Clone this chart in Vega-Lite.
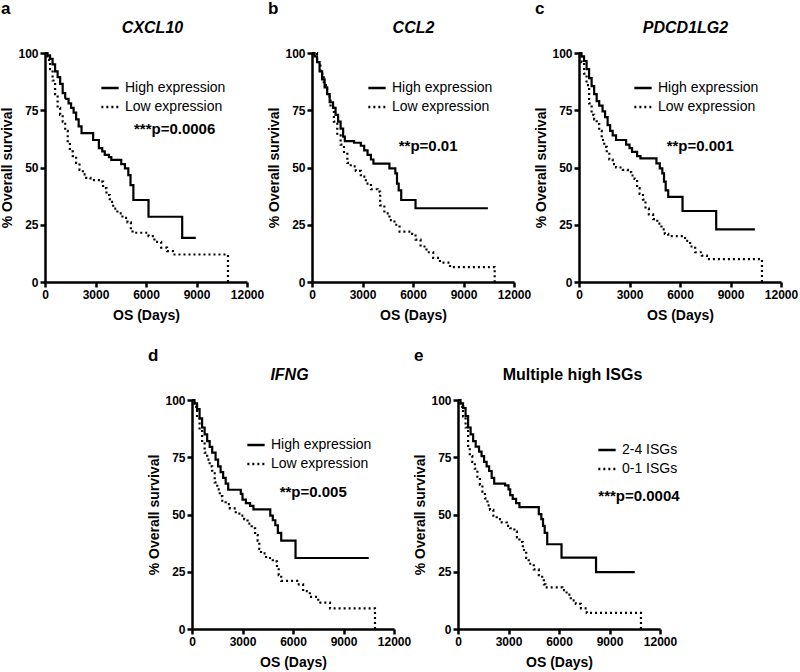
{
  "$schema": "https://vega.github.io/schema/vega-lite/v6.json",
  "padding": {"left": 0, "top": 0, "right": 5, "bottom": 5},
  "datasets": {
    "km": [
      {"panel":"a","group":"High expression","day":0,"survival":100},
      {"panel":"a","group":"High expression","day":150,"survival":99},
      {"panel":"a","group":"High expression","day":300,"survival":97.5},
      {"panel":"a","group":"High expression","day":450,"survival":95},
      {"panel":"a","group":"High expression","day":600,"survival":92},
      {"panel":"a","group":"High expression","day":750,"survival":89.5},
      {"panel":"a","group":"High expression","day":900,"survival":86.5},
      {"panel":"a","group":"High expression","day":1050,"survival":82.5},
      {"panel":"a","group":"High expression","day":1200,"survival":80},
      {"panel":"a","group":"High expression","day":1400,"survival":78},
      {"panel":"a","group":"High expression","day":1550,"survival":76},
      {"panel":"a","group":"High expression","day":1700,"survival":74},
      {"panel":"a","group":"High expression","day":1850,"survival":71},
      {"panel":"a","group":"High expression","day":2000,"survival":68},
      {"panel":"a","group":"High expression","day":2170,"survival":65},
      {"panel":"a","group":"High expression","day":2860,"survival":62},
      {"panel":"a","group":"High expression","day":3200,"survival":58.5},
      {"panel":"a","group":"High expression","day":3400,"survival":57},
      {"panel":"a","group":"High expression","day":3550,"survival":55.5},
      {"panel":"a","group":"High expression","day":3800,"survival":54.5},
      {"panel":"a","group":"High expression","day":3940,"survival":53.3},
      {"panel":"a","group":"High expression","day":4530,"survival":51.5},
      {"panel":"a","group":"High expression","day":4750,"survival":49.6},
      {"panel":"a","group":"High expression","day":4950,"survival":46.7},
      {"panel":"a","group":"High expression","day":5080,"survival":42.3},
      {"panel":"a","group":"High expression","day":5250,"survival":35.8},
      {"panel":"a","group":"High expression","day":6150,"survival":28.5},
      {"panel":"a","group":"High expression","day":8150,"survival":19.3},
      {"panel":"a","group":"High expression","day":8960,"survival":19.3},
      {"panel":"a","group":"Low expression","day":0,"survival":100},
      {"panel":"a","group":"Low expression","day":150,"survival":97},
      {"panel":"a","group":"Low expression","day":300,"survival":93},
      {"panel":"a","group":"Low expression","day":450,"survival":88},
      {"panel":"a","group":"Low expression","day":600,"survival":82},
      {"panel":"a","group":"Low expression","day":750,"survival":76},
      {"panel":"a","group":"Low expression","day":900,"survival":73},
      {"panel":"a","group":"Low expression","day":1050,"survival":70},
      {"panel":"a","group":"Low expression","day":1200,"survival":66},
      {"panel":"a","group":"Low expression","day":1350,"survival":61},
      {"panel":"a","group":"Low expression","day":1480,"survival":57},
      {"panel":"a","group":"Low expression","day":1650,"survival":55},
      {"panel":"a","group":"Low expression","day":1850,"survival":52},
      {"panel":"a","group":"Low expression","day":2050,"survival":49},
      {"panel":"a","group":"Low expression","day":2250,"survival":47},
      {"panel":"a","group":"Low expression","day":2450,"survival":45.5},
      {"panel":"a","group":"Low expression","day":2700,"survival":44.5},
      {"panel":"a","group":"Low expression","day":3300,"survival":43.8},
      {"panel":"a","group":"Low expression","day":3450,"survival":41},
      {"panel":"a","group":"Low expression","day":3650,"survival":38},
      {"panel":"a","group":"Low expression","day":3850,"survival":35},
      {"panel":"a","group":"Low expression","day":4050,"survival":32},
      {"panel":"a","group":"Low expression","day":4300,"survival":30},
      {"panel":"a","group":"Low expression","day":4600,"survival":28},
      {"panel":"a","group":"Low expression","day":4900,"survival":26},
      {"panel":"a","group":"Low expression","day":5100,"survival":23},
      {"panel":"a","group":"Low expression","day":5200,"survival":21.5},
      {"panel":"a","group":"Low expression","day":6150,"survival":20},
      {"panel":"a","group":"Low expression","day":6500,"survival":17.5},
      {"panel":"a","group":"Low expression","day":6900,"survival":15},
      {"panel":"a","group":"Low expression","day":7250,"survival":13.5},
      {"panel":"a","group":"Low expression","day":7600,"survival":12},
      {"panel":"a","group":"Low expression","day":10870,"survival":0},
      {"panel":"b","group":"High expression","day":0,"survival":100},
      {"panel":"b","group":"High expression","day":150,"survival":98.5},
      {"panel":"b","group":"High expression","day":300,"survival":96},
      {"panel":"b","group":"High expression","day":450,"survival":92},
      {"panel":"b","group":"High expression","day":600,"survival":88.5},
      {"panel":"b","group":"High expression","day":750,"survival":85},
      {"panel":"b","group":"High expression","day":900,"survival":82},
      {"panel":"b","group":"High expression","day":1050,"survival":78.5},
      {"panel":"b","group":"High expression","day":1250,"survival":76},
      {"panel":"b","group":"High expression","day":1400,"survival":73},
      {"panel":"b","group":"High expression","day":1550,"survival":70},
      {"panel":"b","group":"High expression","day":1700,"survival":67},
      {"panel":"b","group":"High expression","day":1850,"survival":63.5},
      {"panel":"b","group":"High expression","day":1950,"survival":61.5},
      {"panel":"b","group":"High expression","day":2500,"survival":60.8},
      {"panel":"b","group":"High expression","day":2900,"survival":59.5},
      {"panel":"b","group":"High expression","day":3100,"survival":57.5},
      {"panel":"b","group":"High expression","day":3300,"survival":55.5},
      {"panel":"b","group":"High expression","day":3500,"survival":53.5},
      {"panel":"b","group":"High expression","day":3650,"survival":51.7},
      {"panel":"b","group":"High expression","day":4450,"survival":51.7},
      {"panel":"b","group":"High expression","day":4600,"survival":49.6},
      {"panel":"b","group":"High expression","day":4950,"survival":47.4},
      {"panel":"b","group":"High expression","day":5050,"survival":43},
      {"panel":"b","group":"High expression","day":5150,"survival":40},
      {"panel":"b","group":"High expression","day":5300,"survival":35.8},
      {"panel":"b","group":"High expression","day":6150,"survival":32.2},
      {"panel":"b","group":"High expression","day":10450,"survival":32.2},
      {"panel":"b","group":"Low expression","day":0,"survival":100},
      {"panel":"b","group":"Low expression","day":300,"survival":96},
      {"panel":"b","group":"Low expression","day":500,"survival":91},
      {"panel":"b","group":"Low expression","day":700,"survival":86},
      {"panel":"b","group":"Low expression","day":900,"survival":81},
      {"panel":"b","group":"Low expression","day":1100,"survival":76},
      {"panel":"b","group":"Low expression","day":1300,"survival":70},
      {"panel":"b","group":"Low expression","day":1500,"survival":64},
      {"panel":"b","group":"Low expression","day":1700,"survival":60},
      {"panel":"b","group":"Low expression","day":1900,"survival":56},
      {"panel":"b","group":"Low expression","day":2100,"survival":52},
      {"panel":"b","group":"Low expression","day":2300,"survival":50.5},
      {"panel":"b","group":"Low expression","day":2600,"survival":48.5},
      {"panel":"b","group":"Low expression","day":2900,"survival":46},
      {"panel":"b","group":"Low expression","day":3200,"survival":43},
      {"panel":"b","group":"Low expression","day":3500,"survival":40.5},
      {"panel":"b","group":"Low expression","day":3900,"survival":39.5},
      {"panel":"b","group":"Low expression","day":4050,"survival":33.5},
      {"panel":"b","group":"Low expression","day":4300,"survival":30},
      {"panel":"b","group":"Low expression","day":4600,"survival":27},
      {"panel":"b","group":"Low expression","day":4900,"survival":25},
      {"panel":"b","group":"Low expression","day":5200,"survival":22},
      {"panel":"b","group":"Low expression","day":5950,"survival":21},
      {"panel":"b","group":"Low expression","day":6150,"survival":18.5},
      {"panel":"b","group":"Low expression","day":6450,"survival":15.5},
      {"panel":"b","group":"Low expression","day":6800,"survival":13},
      {"panel":"b","group":"Low expression","day":7200,"survival":10.5},
      {"panel":"b","group":"Low expression","day":7600,"survival":8.5},
      {"panel":"b","group":"Low expression","day":8200,"survival":6.5},
      {"panel":"b","group":"Low expression","day":10850,"survival":0},
      {"panel":"c","group":"High expression","day":0,"survival":100},
      {"panel":"c","group":"High expression","day":150,"survival":98.5},
      {"panel":"c","group":"High expression","day":300,"survival":96.5},
      {"panel":"c","group":"High expression","day":450,"survival":93},
      {"panel":"c","group":"High expression","day":600,"survival":89},
      {"panel":"c","group":"High expression","day":750,"survival":85.5},
      {"panel":"c","group":"High expression","day":900,"survival":82},
      {"panel":"c","group":"High expression","day":1050,"survival":79},
      {"panel":"c","group":"High expression","day":1200,"survival":77},
      {"panel":"c","group":"High expression","day":1400,"survival":74.5},
      {"panel":"c","group":"High expression","day":1550,"survival":72},
      {"panel":"c","group":"High expression","day":1700,"survival":68.5},
      {"panel":"c","group":"High expression","day":1850,"survival":66},
      {"panel":"c","group":"High expression","day":2000,"survival":64},
      {"panel":"c","group":"High expression","day":2200,"survival":62},
      {"panel":"c","group":"High expression","day":2800,"survival":60},
      {"panel":"c","group":"High expression","day":3000,"survival":58.5},
      {"panel":"c","group":"High expression","day":3150,"survival":56.8},
      {"panel":"c","group":"High expression","day":3450,"survival":55},
      {"panel":"c","group":"High expression","day":3650,"survival":54},
      {"panel":"c","group":"High expression","day":4500,"survival":54},
      {"panel":"c","group":"High expression","day":4600,"survival":51.8},
      {"panel":"c","group":"High expression","day":4800,"survival":49.6},
      {"panel":"c","group":"High expression","day":4950,"survival":47.4},
      {"panel":"c","group":"High expression","day":5050,"survival":43.8},
      {"panel":"c","group":"High expression","day":5150,"survival":40},
      {"panel":"c","group":"High expression","day":5300,"survival":37.2},
      {"panel":"c","group":"High expression","day":6150,"survival":31},
      {"panel":"c","group":"High expression","day":8150,"survival":23},
      {"panel":"c","group":"High expression","day":10450,"survival":23},
      {"panel":"c","group":"Low expression","day":0,"survival":100},
      {"panel":"c","group":"Low expression","day":150,"survival":96},
      {"panel":"c","group":"Low expression","day":300,"survival":91},
      {"panel":"c","group":"Low expression","day":450,"survival":86},
      {"panel":"c","group":"Low expression","day":600,"survival":78},
      {"panel":"c","group":"Low expression","day":750,"survival":73},
      {"panel":"c","group":"Low expression","day":900,"survival":71},
      {"panel":"c","group":"Low expression","day":1050,"survival":69},
      {"panel":"c","group":"Low expression","day":1200,"survival":66},
      {"panel":"c","group":"Low expression","day":1350,"survival":62},
      {"panel":"c","group":"Low expression","day":1500,"survival":59},
      {"panel":"c","group":"Low expression","day":1650,"survival":56},
      {"panel":"c","group":"Low expression","day":1800,"survival":53.5},
      {"panel":"c","group":"Low expression","day":2000,"survival":51.5},
      {"panel":"c","group":"Low expression","day":2200,"survival":50},
      {"panel":"c","group":"Low expression","day":2600,"survival":49},
      {"panel":"c","group":"Low expression","day":2900,"survival":48},
      {"panel":"c","group":"Low expression","day":3100,"survival":46.5},
      {"panel":"c","group":"Low expression","day":3300,"survival":45},
      {"panel":"c","group":"Low expression","day":3450,"survival":41},
      {"panel":"c","group":"Low expression","day":3600,"survival":38.5},
      {"panel":"c","group":"Low expression","day":3800,"survival":36},
      {"panel":"c","group":"Low expression","day":3950,"survival":32},
      {"panel":"c","group":"Low expression","day":4150,"survival":29.5},
      {"panel":"c","group":"Low expression","day":4400,"survival":27.5},
      {"panel":"c","group":"Low expression","day":4650,"survival":25.5},
      {"panel":"c","group":"Low expression","day":4900,"survival":23},
      {"panel":"c","group":"Low expression","day":5100,"survival":21},
      {"panel":"c","group":"Low expression","day":5300,"survival":20},
      {"panel":"c","group":"Low expression","day":6300,"survival":18},
      {"panel":"c","group":"Low expression","day":6600,"survival":15.5},
      {"panel":"c","group":"Low expression","day":6900,"survival":13},
      {"panel":"c","group":"Low expression","day":7300,"survival":11.5},
      {"panel":"c","group":"Low expression","day":7600,"survival":10},
      {"panel":"c","group":"Low expression","day":10870,"survival":0},
      {"panel":"d","group":"High expression","day":0,"survival":100},
      {"panel":"d","group":"High expression","day":150,"survival":98.5},
      {"panel":"d","group":"High expression","day":300,"survival":96},
      {"panel":"d","group":"High expression","day":450,"survival":92},
      {"panel":"d","group":"High expression","day":600,"survival":88},
      {"panel":"d","group":"High expression","day":750,"survival":85},
      {"panel":"d","group":"High expression","day":900,"survival":82},
      {"panel":"d","group":"High expression","day":1050,"survival":79.5},
      {"panel":"d","group":"High expression","day":1200,"survival":77},
      {"panel":"d","group":"High expression","day":1400,"survival":74},
      {"panel":"d","group":"High expression","day":1550,"survival":71},
      {"panel":"d","group":"High expression","day":1700,"survival":68.5},
      {"panel":"d","group":"High expression","day":1850,"survival":66},
      {"panel":"d","group":"High expression","day":2000,"survival":63.5},
      {"panel":"d","group":"High expression","day":2150,"survival":60.8},
      {"panel":"d","group":"High expression","day":2900,"survival":59},
      {"panel":"d","group":"High expression","day":3000,"survival":56.5},
      {"panel":"d","group":"High expression","day":3200,"survival":55},
      {"panel":"d","group":"High expression","day":3450,"survival":53.8},
      {"panel":"d","group":"High expression","day":3650,"survival":52.2},
      {"panel":"d","group":"High expression","day":4500,"survival":52.2},
      {"panel":"d","group":"High expression","day":4650,"survival":49.5},
      {"panel":"d","group":"High expression","day":4800,"survival":47.5},
      {"panel":"d","group":"High expression","day":4950,"survival":45.3},
      {"panel":"d","group":"High expression","day":5100,"survival":42},
      {"panel":"d","group":"High expression","day":5300,"survival":38.6},
      {"panel":"d","group":"High expression","day":6150,"survival":31},
      {"panel":"d","group":"High expression","day":10500,"survival":31},
      {"panel":"d","group":"Low expression","day":0,"survival":100},
      {"panel":"d","group":"Low expression","day":150,"survival":97},
      {"panel":"d","group":"Low expression","day":300,"survival":92.5},
      {"panel":"d","group":"Low expression","day":450,"survival":87},
      {"panel":"d","group":"Low expression","day":600,"survival":81},
      {"panel":"d","group":"Low expression","day":750,"survival":77},
      {"panel":"d","group":"Low expression","day":900,"survival":74},
      {"panel":"d","group":"Low expression","day":1050,"survival":71},
      {"panel":"d","group":"Low expression","day":1200,"survival":68},
      {"panel":"d","group":"Low expression","day":1350,"survival":64},
      {"panel":"d","group":"Low expression","day":1500,"survival":61},
      {"panel":"d","group":"Low expression","day":1650,"survival":58},
      {"panel":"d","group":"Low expression","day":1800,"survival":56},
      {"panel":"d","group":"Low expression","day":2000,"survival":54.5},
      {"panel":"d","group":"Low expression","day":2250,"survival":52.7},
      {"panel":"d","group":"Low expression","day":2600,"survival":50.4},
      {"panel":"d","group":"Low expression","day":2900,"survival":49.5},
      {"panel":"d","group":"Low expression","day":3100,"survival":48},
      {"panel":"d","group":"Low expression","day":3300,"survival":46},
      {"panel":"d","group":"Low expression","day":3550,"survival":44},
      {"panel":"d","group":"Low expression","day":3750,"survival":41},
      {"panel":"d","group":"Low expression","day":3900,"survival":38.6},
      {"panel":"d","group":"Low expression","day":4000,"survival":35},
      {"panel":"d","group":"Low expression","day":4100,"survival":33},
      {"panel":"d","group":"Low expression","day":4400,"survival":31},
      {"panel":"d","group":"Low expression","day":4800,"survival":29.5},
      {"panel":"d","group":"Low expression","day":5050,"survival":27},
      {"panel":"d","group":"Low expression","day":5150,"survival":23.5},
      {"panel":"d","group":"Low expression","day":5300,"survival":21},
      {"panel":"d","group":"Low expression","day":6250,"survival":19.5},
      {"panel":"d","group":"Low expression","day":6600,"survival":16.5},
      {"panel":"d","group":"Low expression","day":7000,"survival":14},
      {"panel":"d","group":"Low expression","day":7500,"survival":11.5},
      {"panel":"d","group":"Low expression","day":8200,"survival":9},
      {"panel":"d","group":"Low expression","day":10870,"survival":0},
      {"panel":"e","group":"2-4 ISGs","day":0,"survival":100},
      {"panel":"e","group":"2-4 ISGs","day":150,"survival":98.5},
      {"panel":"e","group":"2-4 ISGs","day":300,"survival":96.5},
      {"panel":"e","group":"2-4 ISGs","day":450,"survival":93},
      {"panel":"e","group":"2-4 ISGs","day":600,"survival":88},
      {"panel":"e","group":"2-4 ISGs","day":750,"survival":85},
      {"panel":"e","group":"2-4 ISGs","day":900,"survival":82},
      {"panel":"e","group":"2-4 ISGs","day":1050,"survival":79.6},
      {"panel":"e","group":"2-4 ISGs","day":1250,"survival":77.5},
      {"panel":"e","group":"2-4 ISGs","day":1400,"survival":75.5},
      {"panel":"e","group":"2-4 ISGs","day":1550,"survival":73},
      {"panel":"e","group":"2-4 ISGs","day":1700,"survival":71},
      {"panel":"e","group":"2-4 ISGs","day":1850,"survival":69},
      {"panel":"e","group":"2-4 ISGs","day":2000,"survival":66},
      {"panel":"e","group":"2-4 ISGs","day":2150,"survival":63.5},
      {"panel":"e","group":"2-4 ISGs","day":2800,"survival":62.7},
      {"panel":"e","group":"2-4 ISGs","day":3000,"survival":61},
      {"panel":"e","group":"2-4 ISGs","day":3100,"survival":58.5},
      {"panel":"e","group":"2-4 ISGs","day":3250,"survival":56.8},
      {"panel":"e","group":"2-4 ISGs","day":3450,"survival":55},
      {"panel":"e","group":"2-4 ISGs","day":3650,"survival":53.2},
      {"panel":"e","group":"2-4 ISGs","day":4650,"survival":53.2},
      {"panel":"e","group":"2-4 ISGs","day":4800,"survival":50.2},
      {"panel":"e","group":"2-4 ISGs","day":4950,"survival":48},
      {"panel":"e","group":"2-4 ISGs","day":5050,"survival":45},
      {"panel":"e","group":"2-4 ISGs","day":5150,"survival":42},
      {"panel":"e","group":"2-4 ISGs","day":5300,"survival":37},
      {"panel":"e","group":"2-4 ISGs","day":6150,"survival":31.2},
      {"panel":"e","group":"2-4 ISGs","day":8200,"survival":24.8},
      {"panel":"e","group":"2-4 ISGs","day":10500,"survival":24.8},
      {"panel":"e","group":"0-1 ISGs","day":0,"survival":100},
      {"panel":"e","group":"0-1 ISGs","day":150,"survival":97},
      {"panel":"e","group":"0-1 ISGs","day":300,"survival":92.8},
      {"panel":"e","group":"0-1 ISGs","day":450,"survival":88},
      {"panel":"e","group":"0-1 ISGs","day":600,"survival":80},
      {"panel":"e","group":"0-1 ISGs","day":700,"survival":75.5},
      {"panel":"e","group":"0-1 ISGs","day":850,"survival":73},
      {"panel":"e","group":"0-1 ISGs","day":1000,"survival":70},
      {"panel":"e","group":"0-1 ISGs","day":1150,"survival":66.5},
      {"panel":"e","group":"0-1 ISGs","day":1300,"survival":63},
      {"panel":"e","group":"0-1 ISGs","day":1450,"survival":60},
      {"panel":"e","group":"0-1 ISGs","day":1600,"survival":57},
      {"panel":"e","group":"0-1 ISGs","day":1750,"survival":54},
      {"panel":"e","group":"0-1 ISGs","day":1900,"survival":52},
      {"panel":"e","group":"0-1 ISGs","day":2100,"survival":49.5},
      {"panel":"e","group":"0-1 ISGs","day":2300,"survival":48},
      {"panel":"e","group":"0-1 ISGs","day":2600,"survival":46.5},
      {"panel":"e","group":"0-1 ISGs","day":2900,"survival":45},
      {"panel":"e","group":"0-1 ISGs","day":3100,"survival":44},
      {"panel":"e","group":"0-1 ISGs","day":3350,"survival":42.5},
      {"panel":"e","group":"0-1 ISGs","day":3500,"survival":40},
      {"panel":"e","group":"0-1 ISGs","day":3650,"survival":38},
      {"panel":"e","group":"0-1 ISGs","day":3850,"survival":34.5},
      {"panel":"e","group":"0-1 ISGs","day":4050,"survival":31},
      {"panel":"e","group":"0-1 ISGs","day":4200,"survival":28.5},
      {"panel":"e","group":"0-1 ISGs","day":4500,"survival":26},
      {"panel":"e","group":"0-1 ISGs","day":4800,"survival":23.5},
      {"panel":"e","group":"0-1 ISGs","day":5000,"survival":22},
      {"panel":"e","group":"0-1 ISGs","day":5100,"survival":19.5},
      {"panel":"e","group":"0-1 ISGs","day":5200,"survival":18.2},
      {"panel":"e","group":"0-1 ISGs","day":6200,"survival":17},
      {"panel":"e","group":"0-1 ISGs","day":6450,"survival":15},
      {"panel":"e","group":"0-1 ISGs","day":6700,"survival":12.5},
      {"panel":"e","group":"0-1 ISGs","day":7000,"survival":11},
      {"panel":"e","group":"0-1 ISGs","day":7300,"survival":9},
      {"panel":"e","group":"0-1 ISGs","day":7650,"survival":7},
      {"panel":"e","group":"0-1 ISGs","day":10870,"survival":0}
    ],
    "pvals": [
      {"panel":"a","label":"***p=0.0006"},
      {"panel":"b","label":"**p=0.01"},
      {"panel":"c","label":"**p=0.001"},
      {"panel":"d","label":"**p=0.005"},
      {"panel":"e","label":"***p=0.0004"}
    ]
  },
  "spacing": 25,
  "resolve": {
    "scale": {"x": "independent", "y": "independent", "strokeDash": "independent"},
    "legend": {"strokeDash": "independent"}
  },
  "vconcat": [
    {
      "spacing": 3,
      "resolve": {
        "scale": {"x": "independent", "y": "independent", "strokeDash": "independent"},
        "legend": {"strokeDash": "independent"}
      },
      "hconcat": [
        {
          "width": 202, "height": 229,
          "title": {"text": "a"},
          "layer": [
            {
              "data": {"name": "km"},
              "transform": [{"filter": "datum.panel === 'a'"}],
              "mark": {"type": "line", "interpolate": "step-after", "color": "black", "strokeWidth": 2.2, "clip": false},
              "encoding": {
                "x": {"field": "day", "type": "quantitative", "scale": {"domain": [0, 12000]}, "axis": {"values": [0, 3000, 6000, 9000, 12000], "format": "d", "title": "OS (Days)"}},
                "y": {"field": "survival", "type": "quantitative", "scale": {"domain": [0, 100]}, "axis": {"values": [0, 25, 50, 75, 100], "title": "% Overall survival"}},
                "strokeDash": {"field": "group", "type": "nominal", "scale": {"domain": ["High expression", "Low expression"], "range": [[1, 0], [2, 3]]}, "legend": {"orient": "none", "legendX": 55, "legendY": 25, "title": null}}
              }
            },
            {
              "data": {"name": "pvals"},
              "transform": [{"filter": "datum.panel === 'a'"}],
              "mark": {"type": "text", "fontSize": 15, "fontWeight": "bold", "color": "black"},
              "encoding": {
                "x": {"datum": 7700, "type": "quantitative", "axis": {"orient": "top", "title": "CXCL10", "labels": false, "ticks": false, "domain": false, "titleFontStyle": "italic", "titleFontSize": 16, "titlePadding": 18, "titleX": 107}},
                "y": {"datum": 67, "type": "quantitative", "axis": {"values": [0, 25, 50, 75, 100], "title": "% Overall survival"}},
                "text": {"field": "label"}
              }
            }
          ],
          "resolve": {"axis": {"x": "independent"}}
        },
        {
          "width": 202, "height": 229,
          "title": {"text": "b"},
          "layer": [
            {
              "data": {"name": "km"},
              "transform": [{"filter": "datum.panel === 'b'"}],
              "mark": {"type": "line", "interpolate": "step-after", "color": "black", "strokeWidth": 2.2, "clip": false},
              "encoding": {
                "x": {"field": "day", "type": "quantitative", "scale": {"domain": [0, 12000]}, "axis": {"values": [0, 3000, 6000, 9000, 12000], "format": "d", "title": "OS (Days)"}},
                "y": {"field": "survival", "type": "quantitative", "scale": {"domain": [0, 100]}, "axis": {"values": [0, 25, 50, 75, 100], "title": "% Overall survival"}},
                "strokeDash": {"field": "group", "type": "nominal", "scale": {"domain": ["High expression", "Low expression"], "range": [[1, 0], [2, 3]]}, "legend": {"orient": "none", "legendX": 55, "legendY": 25, "title": null}}
              }
            },
            {
              "data": {"name": "pvals"},
              "transform": [{"filter": "datum.panel === 'b'"}],
              "mark": {"type": "text", "fontSize": 15, "fontWeight": "bold", "color": "black"},
              "encoding": {
                "x": {"datum": 6900, "type": "quantitative", "axis": {"orient": "top", "title": "CCL2", "labels": false, "ticks": false, "domain": false, "titleFontStyle": "italic", "titleFontSize": 16, "titlePadding": 18}},
                "y": {"datum": 59.4, "type": "quantitative", "axis": {"values": [0, 25, 50, 75, 100], "title": "% Overall survival"}},
                "text": {"field": "label"}
              }
            }
          ],
          "resolve": {"axis": {"x": "independent"}}
        },
        {
          "width": 202, "height": 229,
          "title": {"text": "c"},
          "layer": [
            {
              "data": {"name": "km"},
              "transform": [{"filter": "datum.panel === 'c'"}],
              "mark": {"type": "line", "interpolate": "step-after", "color": "black", "strokeWidth": 2.2, "clip": false},
              "encoding": {
                "x": {"field": "day", "type": "quantitative", "scale": {"domain": [0, 12000]}, "axis": {"values": [0, 3000, 6000, 9000, 12000], "format": "d", "title": "OS (Days)"}},
                "y": {"field": "survival", "type": "quantitative", "scale": {"domain": [0, 100]}, "axis": {"values": [0, 25, 50, 75, 100], "title": "% Overall survival"}},
                "strokeDash": {"field": "group", "type": "nominal", "scale": {"domain": ["High expression", "Low expression"], "range": [[1, 0], [2, 3]]}, "legend": {"orient": "none", "legendX": 54, "legendY": 25, "title": null}}
              }
            },
            {
              "data": {"name": "pvals"},
              "transform": [{"filter": "datum.panel === 'c'"}],
              "mark": {"type": "text", "fontSize": 15, "fontWeight": "bold", "color": "black"},
              "encoding": {
                "x": {"datum": 7200, "type": "quantitative", "axis": {"orient": "top", "title": "PDCD1LG2", "labels": false, "ticks": false, "domain": false, "titleFontStyle": "italic", "titleFontSize": 16, "titlePadding": 18, "titleX": 106}},
                "y": {"datum": 59.4, "type": "quantitative", "axis": {"values": [0, 25, 50, 75, 100], "title": "% Overall survival"}},
                "text": {"field": "label"}
              }
            }
          ],
          "resolve": {"axis": {"x": "independent"}}
        }
      ]
    },
    {
      "spacing": 2,
      "resolve": {
        "scale": {"x": "independent", "y": "independent", "strokeDash": "independent"},
        "legend": {"strokeDash": "independent"}
      },
      "hconcat": [
        {
          "width": 100, "height": 229,
          "view": {"fill": "white", "stroke": null},
          "data": {"values": []},
          "mark": "point"
        },
        {
          "width": 202, "height": 229,
          "title": {"text": "d"},
          "layer": [
            {
              "data": {"name": "km"},
              "transform": [{"filter": "datum.panel === 'd'"}],
              "mark": {"type": "line", "interpolate": "step-after", "color": "black", "strokeWidth": 2.2, "clip": false},
              "encoding": {
                "x": {"field": "day", "type": "quantitative", "scale": {"domain": [0, 12000]}, "axis": {"values": [0, 3000, 6000, 9000, 12000], "format": "d", "title": "OS (Days)"}},
                "y": {"field": "survival", "type": "quantitative", "scale": {"domain": [0, 100]}, "axis": {"values": [0, 25, 50, 75, 100], "title": "% Overall survival"}},
                "strokeDash": {"field": "group", "type": "nominal", "scale": {"domain": ["High expression", "Low expression"], "range": [[1, 0], [2, 3]]}, "legend": {"orient": "none", "legendX": 54, "legendY": 35, "title": null}}
              }
            },
            {
              "data": {"name": "pvals"},
              "transform": [{"filter": "datum.panel === 'd'"}],
              "mark": {"type": "text", "fontSize": 15, "fontWeight": "bold", "color": "black"},
              "encoding": {
                "x": {"datum": 7200, "type": "quantitative", "axis": {"orient": "top", "title": "IFNG", "labels": false, "ticks": false, "domain": false, "titleFontStyle": "italic", "titleFontSize": 16, "titlePadding": 18, "titleX": 97}},
                "y": {"datum": 60, "type": "quantitative", "axis": {"values": [0, 25, 50, 75, 100], "title": "% Overall survival"}},
                "text": {"field": "label"}
              }
            }
          ],
          "resolve": {"axis": {"x": "independent"}}
        },
        {
          "width": 202, "height": 229,
          "title": {"text": "e"},
          "layer": [
            {
              "data": {"name": "km"},
              "transform": [{"filter": "datum.panel === 'e'"}],
              "mark": {"type": "line", "interpolate": "step-after", "color": "black", "strokeWidth": 2.2, "clip": false},
              "encoding": {
                "x": {"field": "day", "type": "quantitative", "scale": {"domain": [0, 12000]}, "axis": {"values": [0, 3000, 6000, 9000, 12000], "format": "d", "title": "OS (Days)"}},
                "y": {"field": "survival", "type": "quantitative", "scale": {"domain": [0, 100]}, "axis": {"values": [0, 25, 50, 75, 100], "title": "% Overall survival"}},
                "strokeDash": {"field": "group", "type": "nominal", "scale": {"domain": ["2-4 ISGs", "0-1 ISGs"], "range": [[1, 0], [2, 3]]}, "legend": {"orient": "none", "legendX": 139, "legendY": 40, "title": null}}
              }
            },
            {
              "data": {"name": "pvals"},
              "transform": [{"filter": "datum.panel === 'e'"}],
              "mark": {"type": "text", "fontSize": 15, "fontWeight": "bold", "color": "black"},
              "encoding": {
                "x": {"datum": 10750, "type": "quantitative", "axis": {"orient": "top", "title": "Multiple high ISGs", "labels": false, "ticks": false, "domain": false, "titleFontStyle": "normal", "titleFontSize": 16, "titlePadding": 18, "titleX": 114}},
                "y": {"datum": 58, "type": "quantitative", "axis": {"values": [0, 25, 50, 75, 100], "title": "% Overall survival"}},
                "text": {"field": "label"}
              }
            }
          ],
          "resolve": {"axis": {"x": "independent"}}
        }
      ]
    }
  ],
  "config": {
    "font": "Liberation Sans",
    "view": {"stroke": null},
    "axis": {"domainColor": "black", "domainWidth": 2.5, "tickColor": "black", "tickWidth": 2.5, "tickSize": 5, "labelColor": "black", "labelFontSize": 12, "labelFontWeight": "bold", "labelPadding": 2, "titleColor": "black", "titleFontSize": 14, "titleFontWeight": "bold", "grid": false, "labelFlush": false},
    "axisY": {"titlePadding": 3},
    "axisBottom": {"titlePadding": 8},
    "legend": {"labelFontSize": 14, "labelColor": "black", "symbolStrokeColor": "black", "symbolStrokeWidth": 2.5, "symbolSize": 300, "symbolType": "stroke", "rowPadding": 2, "padding": 0, "labelOffset": 5},
    "title": {"fontSize": 17, "fontWeight": "bold", "color": "black", "anchor": "start", "frame": "bounds", "offset": 1}
  }
}
